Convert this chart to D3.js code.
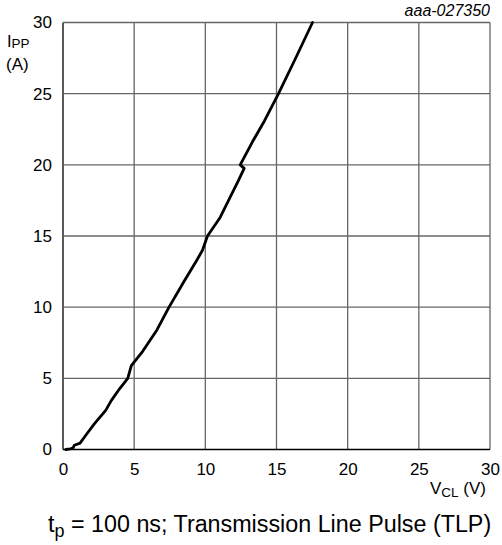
<!DOCTYPE html>
<html><head><meta charset="utf-8">
<script src="https://cdn.jsdelivr.net/npm/d3@7"></script>
<style>body{margin:0;background:#fff;overflow:hidden}svg{display:block;font-family:"Liberation Sans",Arial,sans-serif}</style>
</head><body><svg id="c" width="502" height="545"></svg>
<script>
const xTicks = [0,5,10,15,20,25,30];
const yTicks = [0,5,10,15,20,25,30];
const vcl = [0.2,0.5,0.7,0.8,1.2,1.6,2.2,3.0,3.4,4.0,4.55,4.8,5.6,6.6,7.45,8.5,9.4,9.8,10.15,11.04,12.33,12.73,12.45,13.3,14.16,15.14,16.3,17.53];
const ipp = [0,0.05,0.1,0.3,0.45,1.0,1.8,2.75,3.45,4.3,5,5.9,6.9,8.4,10,11.8,13.3,14.0,15,16.3,18.9,19.75,20,21.6,23.1,25,27.4,30];

const svg = d3.select("#c");
const L=63, R=490, T=22.5, B=449.5;
const x = d3.scaleLinear().domain([0,30]).range([L,R]);
const y = d3.scaleLinear().domain([0,30]).range([B,T]);
const gridColor = "#666666";
const FF = "Liberation Sans, Arial, sans-serif";

// grid
svg.append("g").selectAll("line").data(xTicks).join("line")
  .attr("x1",d=>x(d)).attr("x2",d=>x(d)).attr("y1",T).attr("y2",B)
  .attr("stroke",d=>(d===0)?"#000":gridColor).attr("stroke-width",1.3);
svg.append("g").selectAll("line").data(yTicks).join("line")
  .attr("y1",d=>y(d)).attr("y2",d=>y(d)).attr("x1",L).attr("x2",R)
  .attr("stroke",d=>(d===0)?"#000":gridColor).attr("stroke-width",1.3);

// axes labels via d3 axes (no lines)
const xa = svg.append("g").attr("transform",`translate(0,${B})`)
  .call(d3.axisBottom(x).tickValues(xTicks).tickSize(0).tickPadding(13));
xa.select(".domain").remove();
xa.selectAll("text").attr("font-size",17).attr("fill","#000").attr("font-family",FF);
const ya = svg.append("g").attr("transform",`translate(${L},0)`)
  .call(d3.axisLeft(y).tickValues(yTicks).tickSize(0).tickPadding(11));
ya.select(".domain").remove();
ya.selectAll("text").attr("font-size",17).attr("fill","#000").attr("font-family",FF);

// curve
svg.append("path")
  .datum(vcl.map((v,i)=>[v,ipp[i]]))
  .attr("d", d3.line().x(d=>x(d[0])).y(d=>y(d[1])))
  .attr("fill","none").attr("stroke","#000").attr("stroke-width",2.8)
  .attr("stroke-linejoin","round").attr("stroke-linecap","round");

// y label
const yl = svg.append("text").attr("x",7).attr("y",47).attr("font-size",16.5);
yl.append("tspan").text("I");
yl.append("tspan").attr("font-size",13.5).attr("dy",1).text("PP");
svg.append("text").attr("x",6).attr("y",70).attr("font-size",17).text("(A)");

// x label
const xl = svg.append("text").attr("x",486).attr("y",494).attr("text-anchor","end").attr("font-size",17);
xl.append("tspan").text("V");
xl.append("tspan").attr("font-size",13.5).attr("dy",3).text("CL");
xl.append("tspan").attr("dy",-3).text(" (V)");

// id
svg.append("text").attr("x",490).attr("y",16).attr("text-anchor","end")
  .attr("font-size",16).attr("font-style","italic").text("aaa-027350");

// caption
const cap = svg.append("text").attr("x",48).attr("y",532).attr("font-size",23.3);
cap.append("tspan").text("t");
cap.append("tspan").attr("font-size",18).attr("dy",5).text("p");
cap.append("tspan").attr("dy",-5).text(" = 100 ns; Transmission Line Pulse (TLP)");
</script></body></html>
